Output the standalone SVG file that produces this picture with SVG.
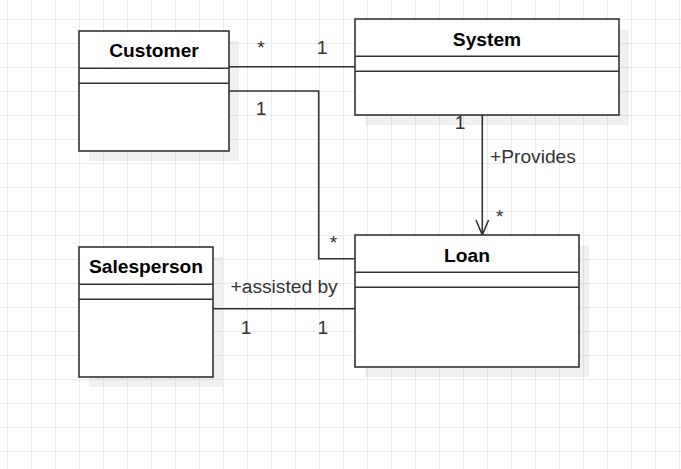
<svg xmlns="http://www.w3.org/2000/svg" width="681" height="469" viewBox="0 0 681 469">
<style>
.box{fill:#ffffff;stroke:#333333;stroke-width:1.6}
.shadow{fill:#000000;fill-opacity:0.06}
.div{stroke:#333333;stroke-width:1.6;fill:none}
.title{font-family:"Liberation Sans",Arial,sans-serif;font-size:19.2px;font-weight:bold;fill:#000000;text-anchor:middle}
.lbl{font-family:"Liberation Sans",Arial,sans-serif;font-size:19.2px;fill:#333333}
.mid{text-anchor:middle}
.edge{stroke:#333333;stroke-width:1.6;fill:none}
</style>
<defs>
<pattern id="grid" patternUnits="userSpaceOnUse" x="7" y="19" width="24" height="24">
<rect x="0" y="0" width="1" height="24" fill="#ebebeb"/>
<rect x="0" y="0" width="24" height="1" fill="#ebebeb"/>
</pattern>
</defs>
<rect x="0" y="0" width="681" height="469" fill="#ffffff"/>
<rect x="0" y="0" width="681" height="469" fill="url(#grid)"/>

<g id="connectors">
<path class="edge" d="M229 66.7 H355"/>
<path class="edge" d="M229 91 H318.7 V258.7 H355"/>
<path class="edge" d="M482.3 115 V235"/>
<path class="edge" d="M476 220 L482.3 235 L488.6 220"/>
<path class="edge" d="M213 308.7 H355"/>
<text class="lbl mid" x="261" y="54.3">*</text>
<text class="lbl mid" x="322" y="54">1</text>
<text class="lbl mid" x="261" y="114.7">1</text>
<text class="lbl mid" x="333.5" y="249.4">*</text>
<text class="lbl mid" x="460" y="129">1</text>
<text class="lbl" x="490" y="163.3">+Provides</text>
<text class="lbl mid" x="499.7" y="222.7">*</text>
<text class="lbl" x="230.5" y="292.5">+assisted by</text>
<text class="lbl mid" x="246" y="334">1</text>
<text class="lbl mid" x="322.8" y="334">1</text>
</g>

<g id="customer">
<rect class="shadow" x="89" y="41" width="150" height="120"/>
<rect class="box" x="79" y="31" width="150" height="120"/>
<path class="div" d="M79 68.3 H229 M79 83.3 H229"/>
<text class="title" x="154" y="57.3">Customer</text>
</g>

<g id="system">
<rect class="shadow" x="365" y="29" width="264" height="96"/>
<rect class="box" x="355" y="19" width="264" height="96"/>
<path class="div" d="M355 56.3 H619 M355 71.3 H619"/>
<text class="title" x="487" y="45.7">System</text>
</g>

<g id="loan">
<rect class="shadow" x="365" y="245" width="224" height="132"/>
<rect class="box" x="355" y="235" width="224" height="132"/>
<path class="div" d="M355 272.3 H579 M355 287.3 H579"/>
<text class="title" x="467" y="261.7">Loan</text>
</g>

<g id="salesperson">
<rect class="shadow" x="89" y="257" width="134" height="130"/>
<rect class="box" x="79" y="247" width="134" height="130"/>
<path class="div" d="M79 284.3 H213 M79 299.3 H213"/>
<text class="title" x="146" y="273.3">Salesperson</text>
</g>
</svg>
